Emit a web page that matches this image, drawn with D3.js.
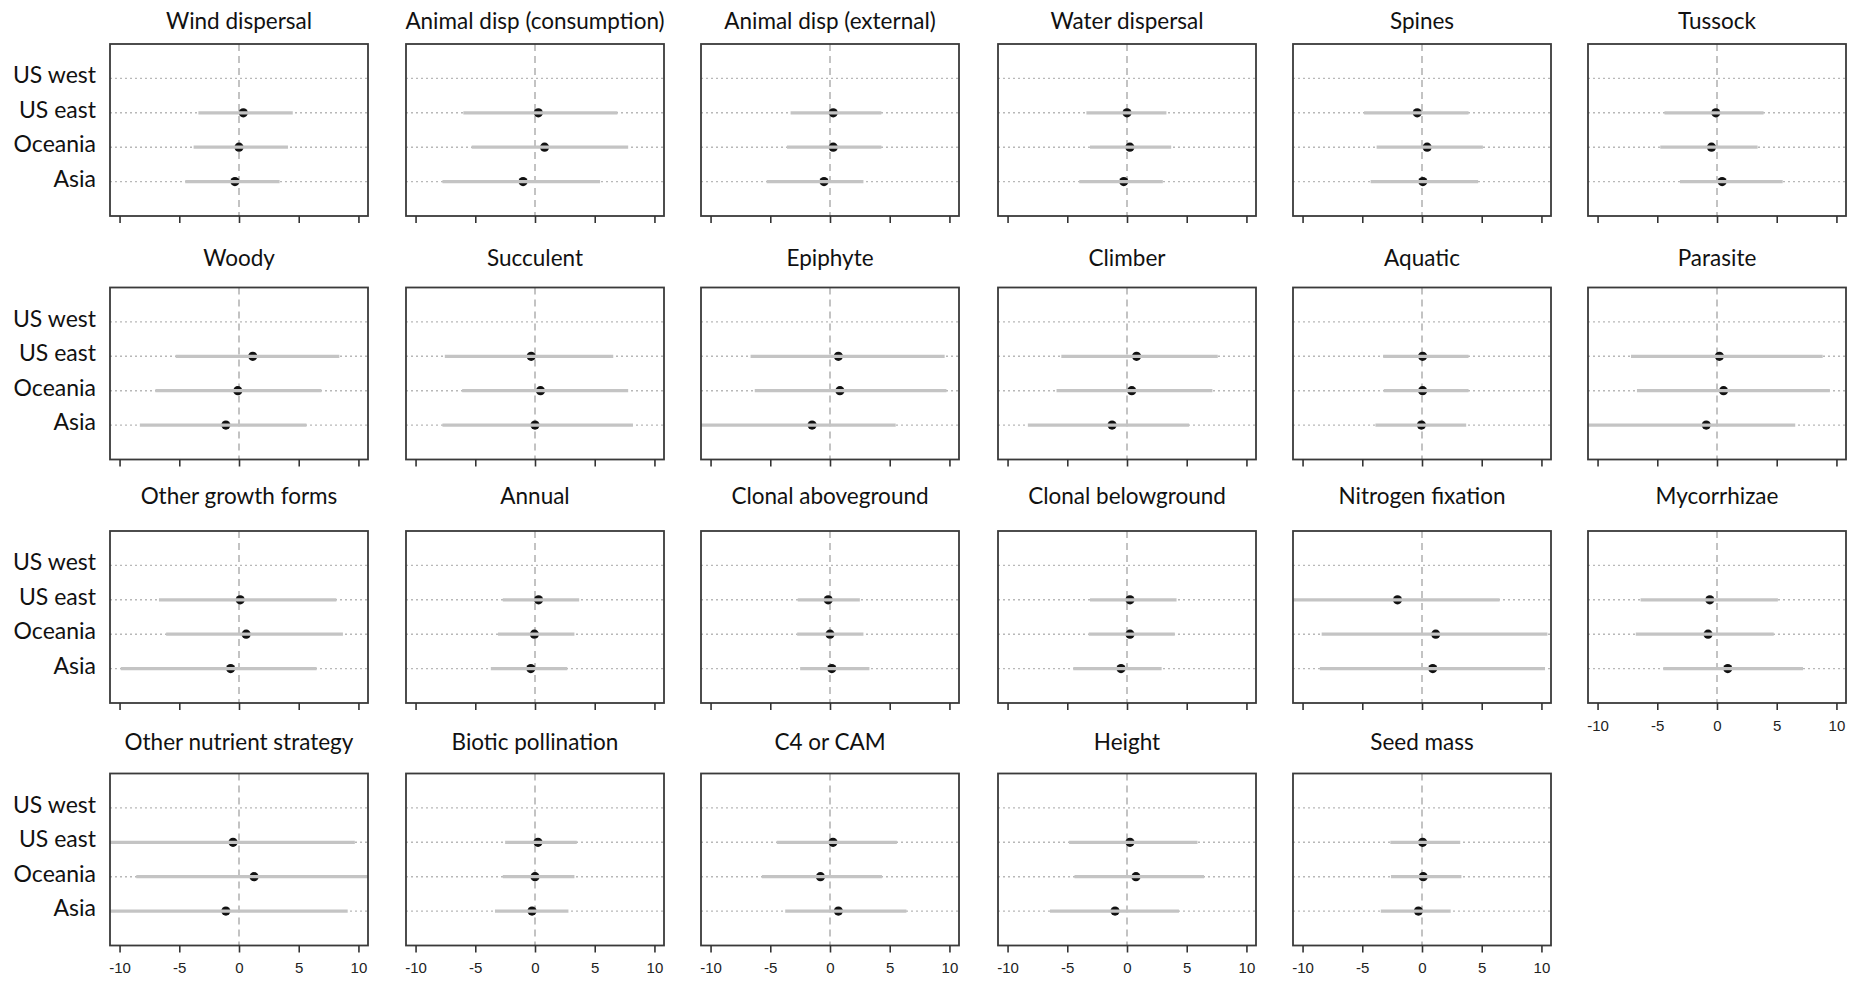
<!DOCTYPE html>
<html>
<head>
<meta charset="utf-8">
<script src="https://cdn.jsdelivr.net/npm/d3@7"></script>
<style>
  body { margin: 0; background: #fff; }
  svg { display: block; }
</style>
</head>
<body>
<script>
// Trait panels, in reading order (6 per row)
const traits = [
  "Wind dispersal", "Animal disp (consumption)", "Animal disp (external)", "Water dispersal", "Spines", "Tussock",
  "Woody", "Succulent", "Epiphyte", "Climber", "Aquatic", "Parasite",
  "Other growth forms", "Annual", "Clonal aboveground", "Clonal belowground", "Nitrogen fixation", "Mycorrhizae",
  "Other nutrient strategy", "Biotic pollination", "C4 or CAM", "Height", "Seed mass"
];

// Regions, top to bottom within each panel (US west has no estimates)
const regions = ["US west", "US east", "Oceania", "Asia"];
const tickValues = [-10, -5, 0, 5, 10];

// Estimates and interval bounds per trait
const usEastEst = [0.36, 0.28, 0.27, 0, -0.4, -0.1, 1.15, -0.32, 0.7, 0.8, 0.05, 0.2, 0.1, 0.3, -0.15, 0.25, -2.05, -0.6, -0.5, 0.25, 0.25, 0.25, 0.05];
const usEastLo  = [-3.4, -6.0, -3.3, -3.4, -4.85, -4.4, -5.3, -7.55, -6.65, -5.5, -3.25, -7.2, -6.7, -2.7, -2.7, -3.1, -11, -6.4, -11.5, -2.5, -4.45, -4.85, -2.65];
const usEastHi  = [4.5, 6.9, 4.3, 3.3, 3.9, 3.9, 8.4, 6.55, 9.6, 7.6, 3.9, 8.85, 8.15, 3.7, 2.5, 4.15, 6.5, 5.1, 9.7, 3.5, 5.6, 5.9, 3.2];

const oceaniaEst = [0, 0.8, 0.27, 0.24, 0.43, -0.46, -0.1, 0.46, 0.83, 0.4, 0.05, 0.55, 0.6, -0.05, 0, 0.25, 1.15, -0.75, 1.26, 0, -0.8, 0.75, 0.1];
const oceaniaLo  = [-3.8, -5.3, -3.6, -3.1, -3.8, -4.75, -7.0, -6.1, -6.3, -5.9, -3.2, -6.7, -6.1, -3.1, -2.75, -3.2, -8.4, -6.8, -8.6, -2.7, -5.7, -4.4, -2.6];
const oceaniaHi  = [4.1, 7.8, 4.3, 3.7, 5.1, 3.4, 6.9, 7.8, 9.75, 7.15, 3.9, 9.45, 8.7, 3.3, 2.8, 4.0, 10.5, 4.75, 11.5, 3.3, 4.35, 6.45, 3.3];

const asiaEst = [-0.34, -1.0, -0.5, -0.27, 0.07, 0.43, -1.1, 0, -1.5, -1.25, -0.05, -0.9, -0.7, -0.35, 0.15, -0.5, 0.9, 0.9, -1.1, -0.25, 0.7, -1.0, -0.3];
const asiaLo  = [-4.5, -7.75, -5.3, -4.0, -4.3, -3.1, -8.3, -7.75, -11, -8.3, -3.9, -11, -9.9, -3.7, -2.5, -4.5, -8.55, -4.5, -11.5, -3.35, -3.75, -6.45, -3.45];
const asiaHi  = [3.4, 5.45, 2.8, 3.0, 4.7, 5.5, 5.65, 8.2, 5.5, 5.2, 3.7, 6.55, 6.5, 2.7, 3.3, 2.9, 10.3, 7.2, 9.1, 2.8, 6.4, 4.35, 2.4];

const series = [
  { region: "US east", est: usEastEst, lo: usEastLo, hi: usEastHi },
  { region: "Oceania", est: oceaniaEst, lo: oceaniaLo, hi: oceaniaHi },
  { region: "Asia",    est: asiaEst,    lo: asiaLo,    hi: asiaHi }
];

// Page layout
const W = 1861, H = 985;
const nCols = 6;
const colLeft = [110, 406, 701, 998, 1293, 1588];
const rowTop = [44, 287.5, 531, 773.5];
const titleBase = [29, 266, 504, 750];
const pw = 258, ph = 172;

const svg = d3.select("body").append("svg")
  .attr("width", W).attr("height", H)
  .attr("viewBox", `0 0 ${W} ${H}`);

const x = d3.scaleLinear().domain([-10.8, 10.8]).range([0, pw]);
const y = d3.scalePoint().domain(regions).range([ph * 0.2, ph * 0.8]);

svg.append("defs").append("clipPath").attr("id", "panel-clip")
  .append("rect").attr("x", 0).attr("y", 0).attr("width", pw).attr("height", ph);

traits.forEach((trait, i) => {
  const r = Math.floor(i / nCols), c = i % nCols;
  const g = svg.append("g").attr("transform", `translate(${colLeft[c]},${rowTop[r]})`);
  // labels on the x axis only where no panel sits below
  const showLabels = (i + nCols) >= traits.length;

  // title
  g.append("text")
    .attr("x", pw / 2)
    .attr("y", titleBase[r] - rowTop[r])
    .attr("text-anchor", "middle")
    .attr("font-family", "Lato, 'Open Sans', sans-serif")
    .attr("font-size", 22.5)
    .attr("fill", "#111")
    .text(trait);

  const inner = g.append("g").attr("clip-path", "url(#panel-clip)");

  // dotted guide per region
  inner.selectAll("line.guide").data(regions).enter().append("line")
    .attr("class", "guide")
    .attr("x1", 0).attr("x2", pw)
    .attr("y1", d => y(d)).attr("y2", d => y(d))
    .attr("stroke", "#b8b8b8").attr("stroke-width", 1.4)
    .attr("stroke-dasharray", "2,3");

  // dashed zero reference
  inner.append("line")
    .attr("x1", x(0)).attr("x2", x(0))
    .attr("y1", 0).attr("y2", ph)
    .attr("stroke", "#aaaaaa").attr("stroke-width", 1.4)
    .attr("stroke-dasharray", "7,5");

  // estimates: black dot, interval bar drawn over it
  series.forEach(s => {
    const yy = y(s.region);
    inner.append("circle")
      .attr("cx", x(s.est[i])).attr("cy", yy).attr("r", 4.6)
      .attr("fill", "#111");
    inner.append("line")
      .attr("x1", x(s.lo[i])).attr("x2", x(s.hi[i]))
      .attr("y1", yy).attr("y2", yy)
      .attr("stroke", "#c4c4c4").attr("stroke-width", 3.2);
  });

  // frame
  g.append("rect")
    .attr("x", 0).attr("y", 0).attr("width", pw).attr("height", ph)
    .attr("fill", "none").attr("stroke", "#3a3a3a").attr("stroke-width", 1.8);

  // bottom axis (plain hyphen for negative labels)
  const axis = d3.axisBottom(x).tickValues(tickValues).tickSize(7).tickPadding(10)
    .tickFormat(showLabels ? (d => String(d)) : () => "");
  const ax = g.append("g").attr("transform", `translate(0,${ph})`).call(axis);
  ax.select(".domain").remove();
  ax.selectAll(".tick line").attr("stroke", "#333").attr("stroke-width", 1.6);
  ax.selectAll(".tick text")
    .attr("font-family", "'Liberation Sans', Arial, sans-serif")
    .attr("font-size", 15)
    .attr("fill", "#222");

  // region names on the first column
  if (c === 0) {
    g.selectAll("text.region").data(regions).enter().append("text")
      .attr("class", "region")
      .attr("x", -14)
      .attr("y", d => y(d) - 3)
      .attr("dy", "0.35em")
      .attr("text-anchor", "end")
      .attr("font-family", "Lato, 'Open Sans', sans-serif")
      .attr("font-size", 23)
      .attr("fill", "#111")
      .text(d => d);
  }
});
</script>
</body>
</html>
